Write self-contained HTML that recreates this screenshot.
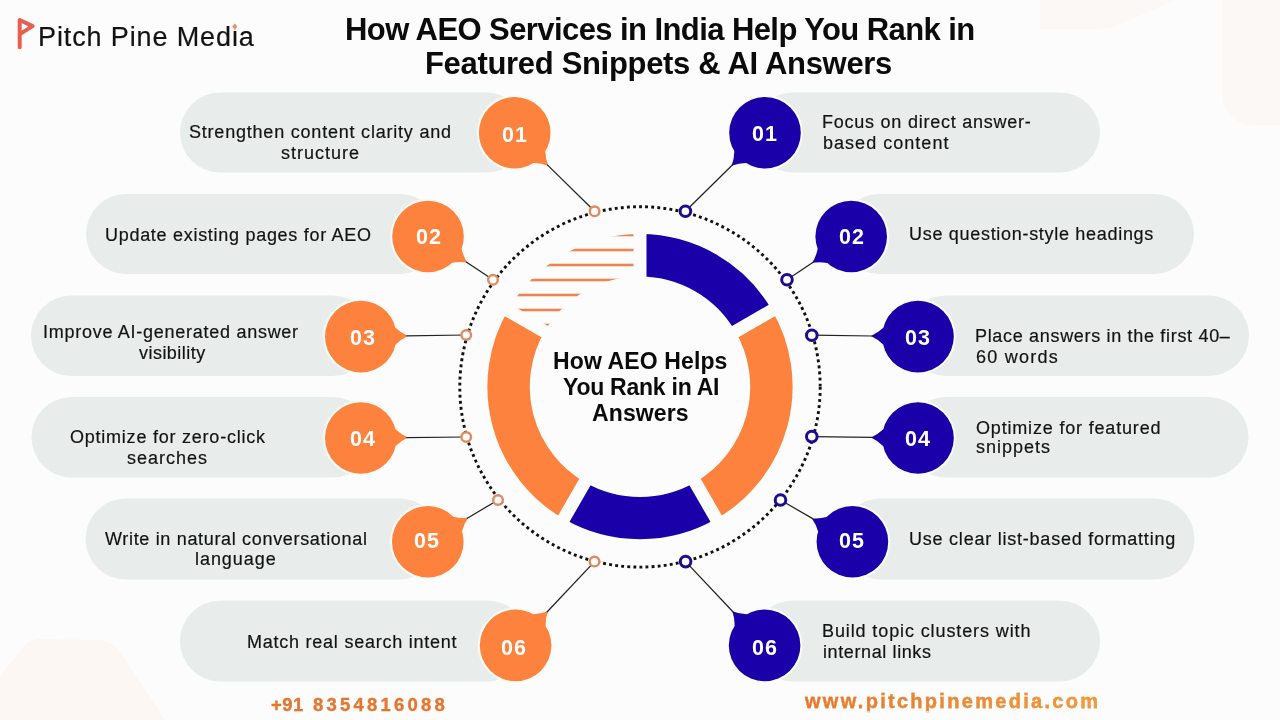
<!DOCTYPE html>
<html><head><meta charset="utf-8"><style>
html,body{margin:0;padding:0;}
body{width:1280px;height:720px;overflow:hidden;position:relative;background:#FCFCFC;font-family:"Liberation Sans",sans-serif;}
svg{position:absolute;left:0;top:0;}
.t{position:absolute;white-space:nowrap;line-height:1;will-change:transform;}
.bl{position:absolute;will-change:transform;width:60px;text-align:center;color:#fff;font-weight:700;font-size:21.5px;line-height:21px;letter-spacing:1px;}
.deco{position:absolute;}
</style></head><body>
<svg class="deco" width="160" height="40" style="left:1030px;top:0"><path d="M10,0 L146,0 L95,22 Q85,29 70,29 L10,29 Z" fill="#FCF8F5"/></svg>
<div class="deco" style="left:1222px;top:0;width:58px;height:125px;background:#FCF8F5;border-bottom-left-radius:30px"></div>
<svg class="deco" width="200" height="90" style="left:0;top:630px"><path d="M0,46 L26,14 Q32,9 40,9 L100,10 Q112,11 120,22 L165,90 L0,90 Z" fill="#FCF7F3"/></svg>
<svg width="1280" height="720" viewBox="0 0 1280 720">
<rect x="180" y="92.5" width="346.7" height="80" rx="40.0" fill="#E8ECEB"/><rect x="753.0" y="92.5" width="347.0" height="80" rx="40.0" fill="#E8ECEB"/><rect x="86" y="194" width="354.0" height="80" rx="40.0" fill="#E8ECEB"/><rect x="839.2" y="194" width="354.8" height="80" rx="40.0" fill="#E8ECEB"/><rect x="31" y="295.5" width="341.8" height="80.5" rx="40.25" fill="#E8ECEB"/><rect x="906.0" y="295.5" width="343.0" height="80.5" rx="40.25" fill="#E8ECEB"/><rect x="31.5" y="397" width="341.3" height="80.5" rx="40.25" fill="#E8ECEB"/><rect x="906.0" y="397" width="342.5" height="80.5" rx="40.25" fill="#E8ECEB"/><rect x="85.5" y="498.5" width="354.3" height="81" rx="40.5" fill="#E8ECEB"/><rect x="840.4" y="498.5" width="354.1" height="81" rx="40.5" fill="#E8ECEB"/><rect x="180" y="600.5" width="347.6" height="81" rx="40.5" fill="#E8ECEB"/><rect x="752.6" y="600.5" width="347.4" height="81" rx="40.5" fill="#E8ECEB"/><path d="M640.00,255.30 A131.4,131.4 0 0 1 753.80,321.00" fill="none" stroke="#1900A9" stroke-width="42.39999999999999"/><path d="M753.80,321.00 A131.4,131.4 0 0 1 705.70,500.50" fill="none" stroke="#FC823D" stroke-width="42.39999999999999"/><path d="M705.70,500.50 A131.4,131.4 0 0 1 574.30,500.50" fill="none" stroke="#1900A9" stroke-width="42.39999999999999"/><path d="M574.30,500.50 A131.4,131.4 0 0 1 526.20,321.00" fill="none" stroke="#FC823D" stroke-width="42.39999999999999"/><defs><clipPath id="wedge"><path d="M507.84,310.40 A152.6,152.6 0 0 1 640.00,234.10 L640.00,276.40 A110.3,110.3 0 0 0 544.48,331.55 Z"/></clipPath></defs><g clip-path="url(#wedge)"><rect x="480" y="233.7" width="170" height="2.6" fill="#EE8450"/><rect x="480" y="248.7" width="170" height="2.6" fill="#EE8450"/><rect x="480" y="263.7" width="170" height="2.6" fill="#EE8450"/><rect x="480" y="278.7" width="170" height="2.6" fill="#EE8450"/><rect x="480" y="293.7" width="170" height="2.6" fill="#EE8450"/><rect x="480" y="308.7" width="170" height="2.6" fill="#EE8450"/><rect x="480" y="323.7" width="170" height="2.6" fill="#EE8450"/></g><line x1="640.00" y1="286.70" x2="640.00" y2="226.70" stroke="#FCFCFC" stroke-width="13"/><line x1="726.60" y1="336.70" x2="778.56" y2="306.70" stroke="#FCFCFC" stroke-width="13"/><line x1="690.00" y1="473.30" x2="720.00" y2="525.26" stroke="#FCFCFC" stroke-width="13"/><line x1="590.00" y1="473.30" x2="560.00" y2="525.26" stroke="#FCFCFC" stroke-width="13"/><line x1="553.40" y1="336.70" x2="501.44" y2="306.70" stroke="#FCFCFC" stroke-width="13"/><circle cx="640" cy="386.9" r="180.2" fill="none" stroke="#111" stroke-width="2.9" stroke-dasharray="2.9 3.2"/><circle cx="514.7" cy="132.7" r="35.8" fill="#FDFBF8" stroke="#FDFBF8" stroke-width="4"/><path d="M514.7,132.7 L545.38,151.15 Q545.55,158.83 548.21,165.66 Q541.33,163.12 533.66,163.07 Z" fill="#FDFBF8" stroke="#FDFBF8" stroke-width="4" stroke-linejoin="round"/><circle cx="514.7" cy="132.7" r="35.8" fill="#FC823D"/><path d="M514.7,132.7 L545.38,151.15 Q545.55,158.83 548.21,165.66 Q541.33,163.12 533.66,163.07 Z" fill="#FC823D"/><circle cx="765.0" cy="132.7" r="35.8" fill="#FDFBF8" stroke="#FDFBF8" stroke-width="4"/><path d="M765.0,132.7 L746.10,163.11 Q738.43,163.17 731.56,165.72 Q734.20,158.89 734.36,151.21 Z" fill="#FDFBF8" stroke="#FDFBF8" stroke-width="4" stroke-linejoin="round"/><circle cx="765.0" cy="132.7" r="35.8" fill="#1900A9"/><path d="M765.0,132.7 L746.10,163.11 Q738.43,163.17 731.56,165.72 Q734.20,158.89 734.36,151.21 Z" fill="#1900A9"/><circle cx="428.0" cy="236.5" r="35.8" fill="#FDFBF8" stroke="#FDFBF8" stroke-width="4"/><path d="M428.0,236.5 L461.60,248.84 Q463.22,256.35 467.12,262.56 Q459.88,261.36 452.34,262.75 Z" fill="#FDFBF8" stroke="#FDFBF8" stroke-width="4" stroke-linejoin="round"/><circle cx="428.0" cy="236.5" r="35.8" fill="#FC823D"/><path d="M428.0,236.5 L461.60,248.84 Q463.22,256.35 467.12,262.56 Q459.88,261.36 452.34,262.75 Z" fill="#FC823D"/><circle cx="851.2" cy="236.5" r="35.8" fill="#FDFBF8" stroke="#FDFBF8" stroke-width="4"/><path d="M851.2,236.5 L827.01,262.89 Q819.46,261.54 812.23,262.78 Q816.09,256.55 817.67,249.04 Z" fill="#FDFBF8" stroke="#FDFBF8" stroke-width="4" stroke-linejoin="round"/><circle cx="851.2" cy="236.5" r="35.8" fill="#1900A9"/><path d="M851.2,236.5 L827.01,262.89 Q819.46,261.54 812.23,262.78 Q816.09,256.55 817.67,249.04 Z" fill="#1900A9"/><circle cx="360.8" cy="336.6" r="35.8" fill="#FDFBF8" stroke="#FDFBF8" stroke-width="4"/><path d="M360.8,336.6 L395.48,327.72 Q401.07,332.98 407.79,335.89 Q401.16,339.00 395.73,344.43 Z" fill="#FDFBF8" stroke="#FDFBF8" stroke-width="4" stroke-linejoin="round"/><circle cx="360.8" cy="336.6" r="35.8" fill="#FC823D"/><path d="M360.8,336.6 L395.48,327.72 Q401.07,332.98 407.79,335.89 Q401.16,339.00 395.73,344.43 Z" fill="#FC823D"/><circle cx="918.0" cy="336.6" r="35.8" fill="#FDFBF8" stroke="#FDFBF8" stroke-width="4"/><path d="M918.0,336.6 L883.08,344.50 Q877.65,339.08 871.00,335.98 Q877.73,333.06 883.30,327.78 Z" fill="#FDFBF8" stroke="#FDFBF8" stroke-width="4" stroke-linejoin="round"/><circle cx="918.0" cy="336.6" r="35.8" fill="#1900A9"/><path d="M918.0,336.6 L883.08,344.50 Q877.65,339.08 871.00,335.98 Q877.73,333.06 883.30,327.78 Z" fill="#1900A9"/><circle cx="360.8" cy="438.0" r="35.8" fill="#FDFBF8" stroke="#FDFBF8" stroke-width="4"/><path d="M360.8,438.0 L395.53,429.31 Q401.09,434.61 407.80,437.55 Q401.14,440.63 395.69,446.03 Z" fill="#FDFBF8" stroke="#FDFBF8" stroke-width="4" stroke-linejoin="round"/><circle cx="360.8" cy="438.0" r="35.8" fill="#FC823D"/><path d="M360.8,438.0 L395.53,429.31 Q401.09,434.61 407.80,437.55 Q401.14,440.63 395.69,446.03 Z" fill="#FC823D"/><circle cx="918.0" cy="438.0" r="35.8" fill="#FDFBF8" stroke="#FDFBF8" stroke-width="4"/><path d="M918.0,438.0 L883.08,445.90 Q877.65,440.48 871.00,437.38 Q877.73,434.46 883.30,429.18 Z" fill="#FDFBF8" stroke="#FDFBF8" stroke-width="4" stroke-linejoin="round"/><circle cx="918.0" cy="438.0" r="35.8" fill="#1900A9"/><path d="M918.0,438.0 L883.08,445.90 Q877.65,440.48 871.00,437.38 Q877.73,434.46 883.30,429.18 Z" fill="#1900A9"/><circle cx="427.8" cy="541.8" r="35.8" fill="#FDFBF8" stroke="#FDFBF8" stroke-width="4"/><path d="M427.8,541.8 L453.43,516.81 Q460.90,518.59 468.18,517.75 Q463.98,523.76 461.99,531.17 Z" fill="#FDFBF8" stroke="#FDFBF8" stroke-width="4" stroke-linejoin="round"/><circle cx="427.8" cy="541.8" r="35.8" fill="#FC823D"/><path d="M427.8,541.8 L453.43,516.81 Q460.90,518.59 468.18,517.75 Q463.98,523.76 461.99,531.17 Z" fill="#FC823D"/><circle cx="852.4" cy="541.8" r="35.8" fill="#FDFBF8" stroke="#FDFBF8" stroke-width="4"/><path d="M852.4,541.8 L818.10,531.53 Q816.03,524.14 811.77,518.18 Q819.06,518.94 826.51,517.08 Z" fill="#FDFBF8" stroke="#FDFBF8" stroke-width="4" stroke-linejoin="round"/><circle cx="852.4" cy="541.8" r="35.8" fill="#1900A9"/><path d="M852.4,541.8 L818.10,531.53 Q816.03,524.14 811.77,518.18 Q819.06,518.94 826.51,517.08 Z" fill="#1900A9"/><circle cx="515.6" cy="645.4" r="35.8" fill="#FDFBF8" stroke="#FDFBF8" stroke-width="4"/><path d="M515.6,645.4 L533.38,614.33 Q541.05,613.98 547.82,611.18 Q545.43,618.11 545.55,625.78 Z" fill="#FDFBF8" stroke="#FDFBF8" stroke-width="4" stroke-linejoin="round"/><circle cx="515.6" cy="645.4" r="35.8" fill="#FC823D"/><path d="M515.6,645.4 L533.38,614.33 Q541.05,613.98 547.82,611.18 Q545.43,618.11 545.55,625.78 Z" fill="#FC823D"/><circle cx="764.6" cy="645.4" r="35.8" fill="#FDFBF8" stroke="#FDFBF8" stroke-width="4"/><path d="M764.6,645.4 L734.64,625.80 Q734.76,618.13 732.36,611.20 Q739.13,614.00 746.80,614.34 Z" fill="#FDFBF8" stroke="#FDFBF8" stroke-width="4" stroke-linejoin="round"/><circle cx="764.6" cy="645.4" r="35.8" fill="#1900A9"/><path d="M764.6,645.4 L734.64,625.80 Q734.76,618.13 732.36,611.20 Q739.13,614.00 746.80,614.34 Z" fill="#1900A9"/><line x1="547.1" y1="164.6" x2="594.6" y2="211.3" stroke="#222" stroke-width="1.25"/><line x1="732.6" y1="164.7" x2="685.4" y2="211.3" stroke="#222" stroke-width="1.25"/><line x1="465.9" y1="261.7" x2="493.0" y2="279.8" stroke="#222" stroke-width="1.25"/><line x1="813.5" y1="261.9" x2="787.0" y2="279.8" stroke="#222" stroke-width="1.25"/><line x1="406.3" y1="335.9" x2="466.2" y2="335.0" stroke="#222" stroke-width="1.25"/><line x1="872.5" y1="336.0" x2="811.8" y2="335.2" stroke="#222" stroke-width="1.25"/><line x1="406.3" y1="437.6" x2="466.2" y2="437.0" stroke="#222" stroke-width="1.25"/><line x1="872.5" y1="437.4" x2="811.8" y2="436.6" stroke="#222" stroke-width="1.25"/><line x1="466.9" y1="518.5" x2="498.0" y2="500.0" stroke="#222" stroke-width="1.25"/><line x1="813.1" y1="518.9" x2="780.5" y2="500.0" stroke="#222" stroke-width="1.25"/><line x1="546.8" y1="612.3" x2="594.5" y2="561.6" stroke="#222" stroke-width="1.25"/><line x1="733.4" y1="612.3" x2="685.6" y2="561.6" stroke="#222" stroke-width="1.25"/><circle cx="594.6" cy="211.3" r="4.8" fill="#fff" stroke="#DF8A60" stroke-width="2.4"/><circle cx="685.4" cy="211.3" r="5.3" fill="#fff" stroke="#1C0C94" stroke-width="3"/><circle cx="493.0" cy="279.8" r="4.8" fill="#fff" stroke="#DF8A60" stroke-width="2.4"/><circle cx="787.0" cy="279.8" r="5.3" fill="#fff" stroke="#1C0C94" stroke-width="3"/><circle cx="466.2" cy="335.0" r="4.8" fill="#fff" stroke="#DF8A60" stroke-width="2.4"/><circle cx="811.8" cy="335.2" r="5.3" fill="#fff" stroke="#1C0C94" stroke-width="3"/><circle cx="466.2" cy="437.0" r="4.8" fill="#fff" stroke="#DF8A60" stroke-width="2.4"/><circle cx="811.8" cy="436.6" r="5.3" fill="#fff" stroke="#1C0C94" stroke-width="3"/><circle cx="498.0" cy="500.0" r="4.8" fill="#fff" stroke="#DF8A60" stroke-width="2.4"/><circle cx="780.5" cy="500.0" r="5.3" fill="#fff" stroke="#1C0C94" stroke-width="3"/><circle cx="594.5" cy="561.6" r="4.8" fill="#fff" stroke="#DF8A60" stroke-width="2.4"/><circle cx="685.6" cy="561.6" r="5.3" fill="#fff" stroke="#1C0C94" stroke-width="3"/><path d="M19.7,47.2 L19.7,20 L32.6,26.1 L21,33.4" fill="none" stroke="#E65F4F" stroke-width="4" stroke-linejoin="round" stroke-linecap="round"/>
</svg>
<div class="t" style="left:189.2px;top:122.6px;font-size:18px;font-weight:400;letter-spacing:0.79px;color:#131313;-webkit-text-stroke:0.2px #131313;">Strengthen content clarity and</div><div class="t" style="left:281.0px;top:143.7px;font-size:18px;font-weight:400;letter-spacing:1.00px;color:#131313;-webkit-text-stroke:0.2px #131313;">structure</div><div class="t" style="left:105.3px;top:225.6px;font-size:18px;font-weight:400;letter-spacing:0.71px;color:#131313;-webkit-text-stroke:0.2px #131313;">Update existing pages for AEO</div><div class="t" style="left:43.2px;top:323.1px;font-size:18px;font-weight:400;letter-spacing:0.73px;color:#131313;-webkit-text-stroke:0.2px #131313;">Improve AI-generated answer</div><div class="t" style="left:138.8px;top:343.5px;font-size:18px;font-weight:400;letter-spacing:0.46px;color:#131313;-webkit-text-stroke:0.2px #131313;">visibility</div><div class="t" style="left:69.7px;top:427.6px;font-size:18px;font-weight:400;letter-spacing:0.77px;color:#131313;-webkit-text-stroke:0.2px #131313;">Optimize for zero-click</div><div class="t" style="left:127.4px;top:448.5px;font-size:18px;font-weight:400;letter-spacing:1.00px;color:#131313;-webkit-text-stroke:0.2px #131313;">searches</div><div class="t" style="left:104.5px;top:529.5px;font-size:18px;font-weight:400;letter-spacing:0.67px;color:#131313;-webkit-text-stroke:0.2px #131313;">Write in natural conversational</div><div class="t" style="left:194.8px;top:549.9px;font-size:18px;font-weight:400;letter-spacing:0.94px;color:#131313;-webkit-text-stroke:0.2px #131313;">language</div><div class="t" style="left:246.5px;top:632.8px;font-size:18px;font-weight:400;letter-spacing:0.76px;color:#131313;-webkit-text-stroke:0.2px #131313;">Match real search intent</div><div class="t" style="left:822.0px;top:112.8px;font-size:18px;font-weight:400;letter-spacing:0.76px;color:#131313;-webkit-text-stroke:0.2px #131313;">Focus on direct answer-</div><div class="t" style="left:823.0px;top:133.8px;font-size:18px;font-weight:400;letter-spacing:1.03px;color:#131313;-webkit-text-stroke:0.2px #131313;">based content</div><div class="t" style="left:908.7px;top:225.4px;font-size:18px;font-weight:400;letter-spacing:0.70px;color:#131313;-webkit-text-stroke:0.2px #131313;">Use question-style headings</div><div class="t" style="left:975.0px;top:326.7px;font-size:18px;font-weight:400;letter-spacing:0.68px;color:#131313;-webkit-text-stroke:0.2px #131313;">Place answers in the first 40–</div><div class="t" style="left:976.0px;top:347.6px;font-size:18px;font-weight:400;letter-spacing:1.26px;color:#131313;-webkit-text-stroke:0.2px #131313;">60 words</div><div class="t" style="left:976.0px;top:418.6px;font-size:18px;font-weight:400;letter-spacing:0.82px;color:#131313;-webkit-text-stroke:0.2px #131313;">Optimize for featured</div><div class="t" style="left:976.0px;top:438.1px;font-size:18px;font-weight:400;letter-spacing:1.00px;color:#131313;-webkit-text-stroke:0.2px #131313;">snippets</div><div class="t" style="left:908.7px;top:530.4px;font-size:18px;font-weight:400;letter-spacing:0.77px;color:#131313;-webkit-text-stroke:0.2px #131313;">Use clear list-based formatting</div><div class="t" style="left:822.0px;top:621.8px;font-size:18px;font-weight:400;letter-spacing:0.89px;color:#131313;-webkit-text-stroke:0.2px #131313;">Build topic clusters with</div><div class="t" style="left:823.0px;top:642.6px;font-size:18px;font-weight:400;letter-spacing:0.61px;color:#131313;-webkit-text-stroke:0.2px #131313;">internal links</div><div class="t" style="left:344.8px;top:13.8px;font-size:31px;font-weight:700;letter-spacing:-0.58px;color:#0B0B0B;">How AEO Services in India Help You Rank in</div><div class="t" style="left:425.4px;top:48.1px;font-size:31px;font-weight:700;letter-spacing:-0.32px;color:#0B0B0B;">Featured Snippets &amp; AI Answers</div><div class="t" style="left:552.6px;top:349.5px;font-size:23px;font-weight:700;letter-spacing:0.12px;color:#0B0B0B;">How AEO Helps</div><div class="t" style="left:563.3px;top:375.6px;font-size:23px;font-weight:700;letter-spacing:-0.25px;color:#0B0B0B;">You Rank in AI</div><div class="t" style="left:591.8px;top:401.6px;font-size:23px;font-weight:700;letter-spacing:0.12px;color:#0B0B0B;">Answers</div><div class="t" style="left:37.5px;top:24.0px;font-size:27px;font-weight:400;letter-spacing:0.88px;color:#131313;-webkit-text-stroke:0.2px #131313;">Pitch Pine Media</div><div class="t" style="left:271.0px;top:695.6px;font-size:18.5px;font-weight:700;letter-spacing:0.50px;color:#E5752F;-webkit-text-stroke:0.35px #E5752F;">+91</div><div class="t" style="left:312.8px;top:695.6px;font-size:18.5px;font-weight:700;letter-spacing:3.22px;color:#E5752F;-webkit-text-stroke:0.35px #E5752F;">8354816088</div><div class="t" style="left:805.2px;top:690.8px;font-size:20px;font-weight:700;letter-spacing:2.29px;color:#E9822F;background:linear-gradient(90deg,#E6762C,#F09C3A);-webkit-background-clip:text;background-clip:text;color:transparent;-webkit-text-stroke:0.3px rgba(235,135,50,0.9);">www.pitchpinemedia.com</div>
<div class="bl" style="left:484.5px;top:124.5px">01</div><div class="bl" style="left:399.4px;top:227.0px">02</div><div class="bl" style="left:333.0px;top:328.0px">03</div><div class="bl" style="left:333.1px;top:429.0px">04</div><div class="bl" style="left:396.8px;top:530.8px">05</div><div class="bl" style="left:484.1px;top:638.1px">06</div><div class="bl" style="left:735.3px;top:123.8px">01</div><div class="bl" style="left:821.5px;top:226.9px">02</div><div class="bl" style="left:887.7px;top:327.7px">03</div><div class="bl" style="left:888.0px;top:428.7px">04</div><div class="bl" style="left:821.5px;top:531.0px">05</div><div class="bl" style="left:735.1px;top:638.0px">06</div>
<svg width="1280" height="60" style="position:absolute;left:0;top:0"><rect x="232.3" y="24.6" width="5" height="4.6" fill="#FCFCFC"/><polygon points="234.8,23.6 237.3,26.6 234.8,30 232.3,26.6" fill="#EE8A66"/></svg>
</body></html>
